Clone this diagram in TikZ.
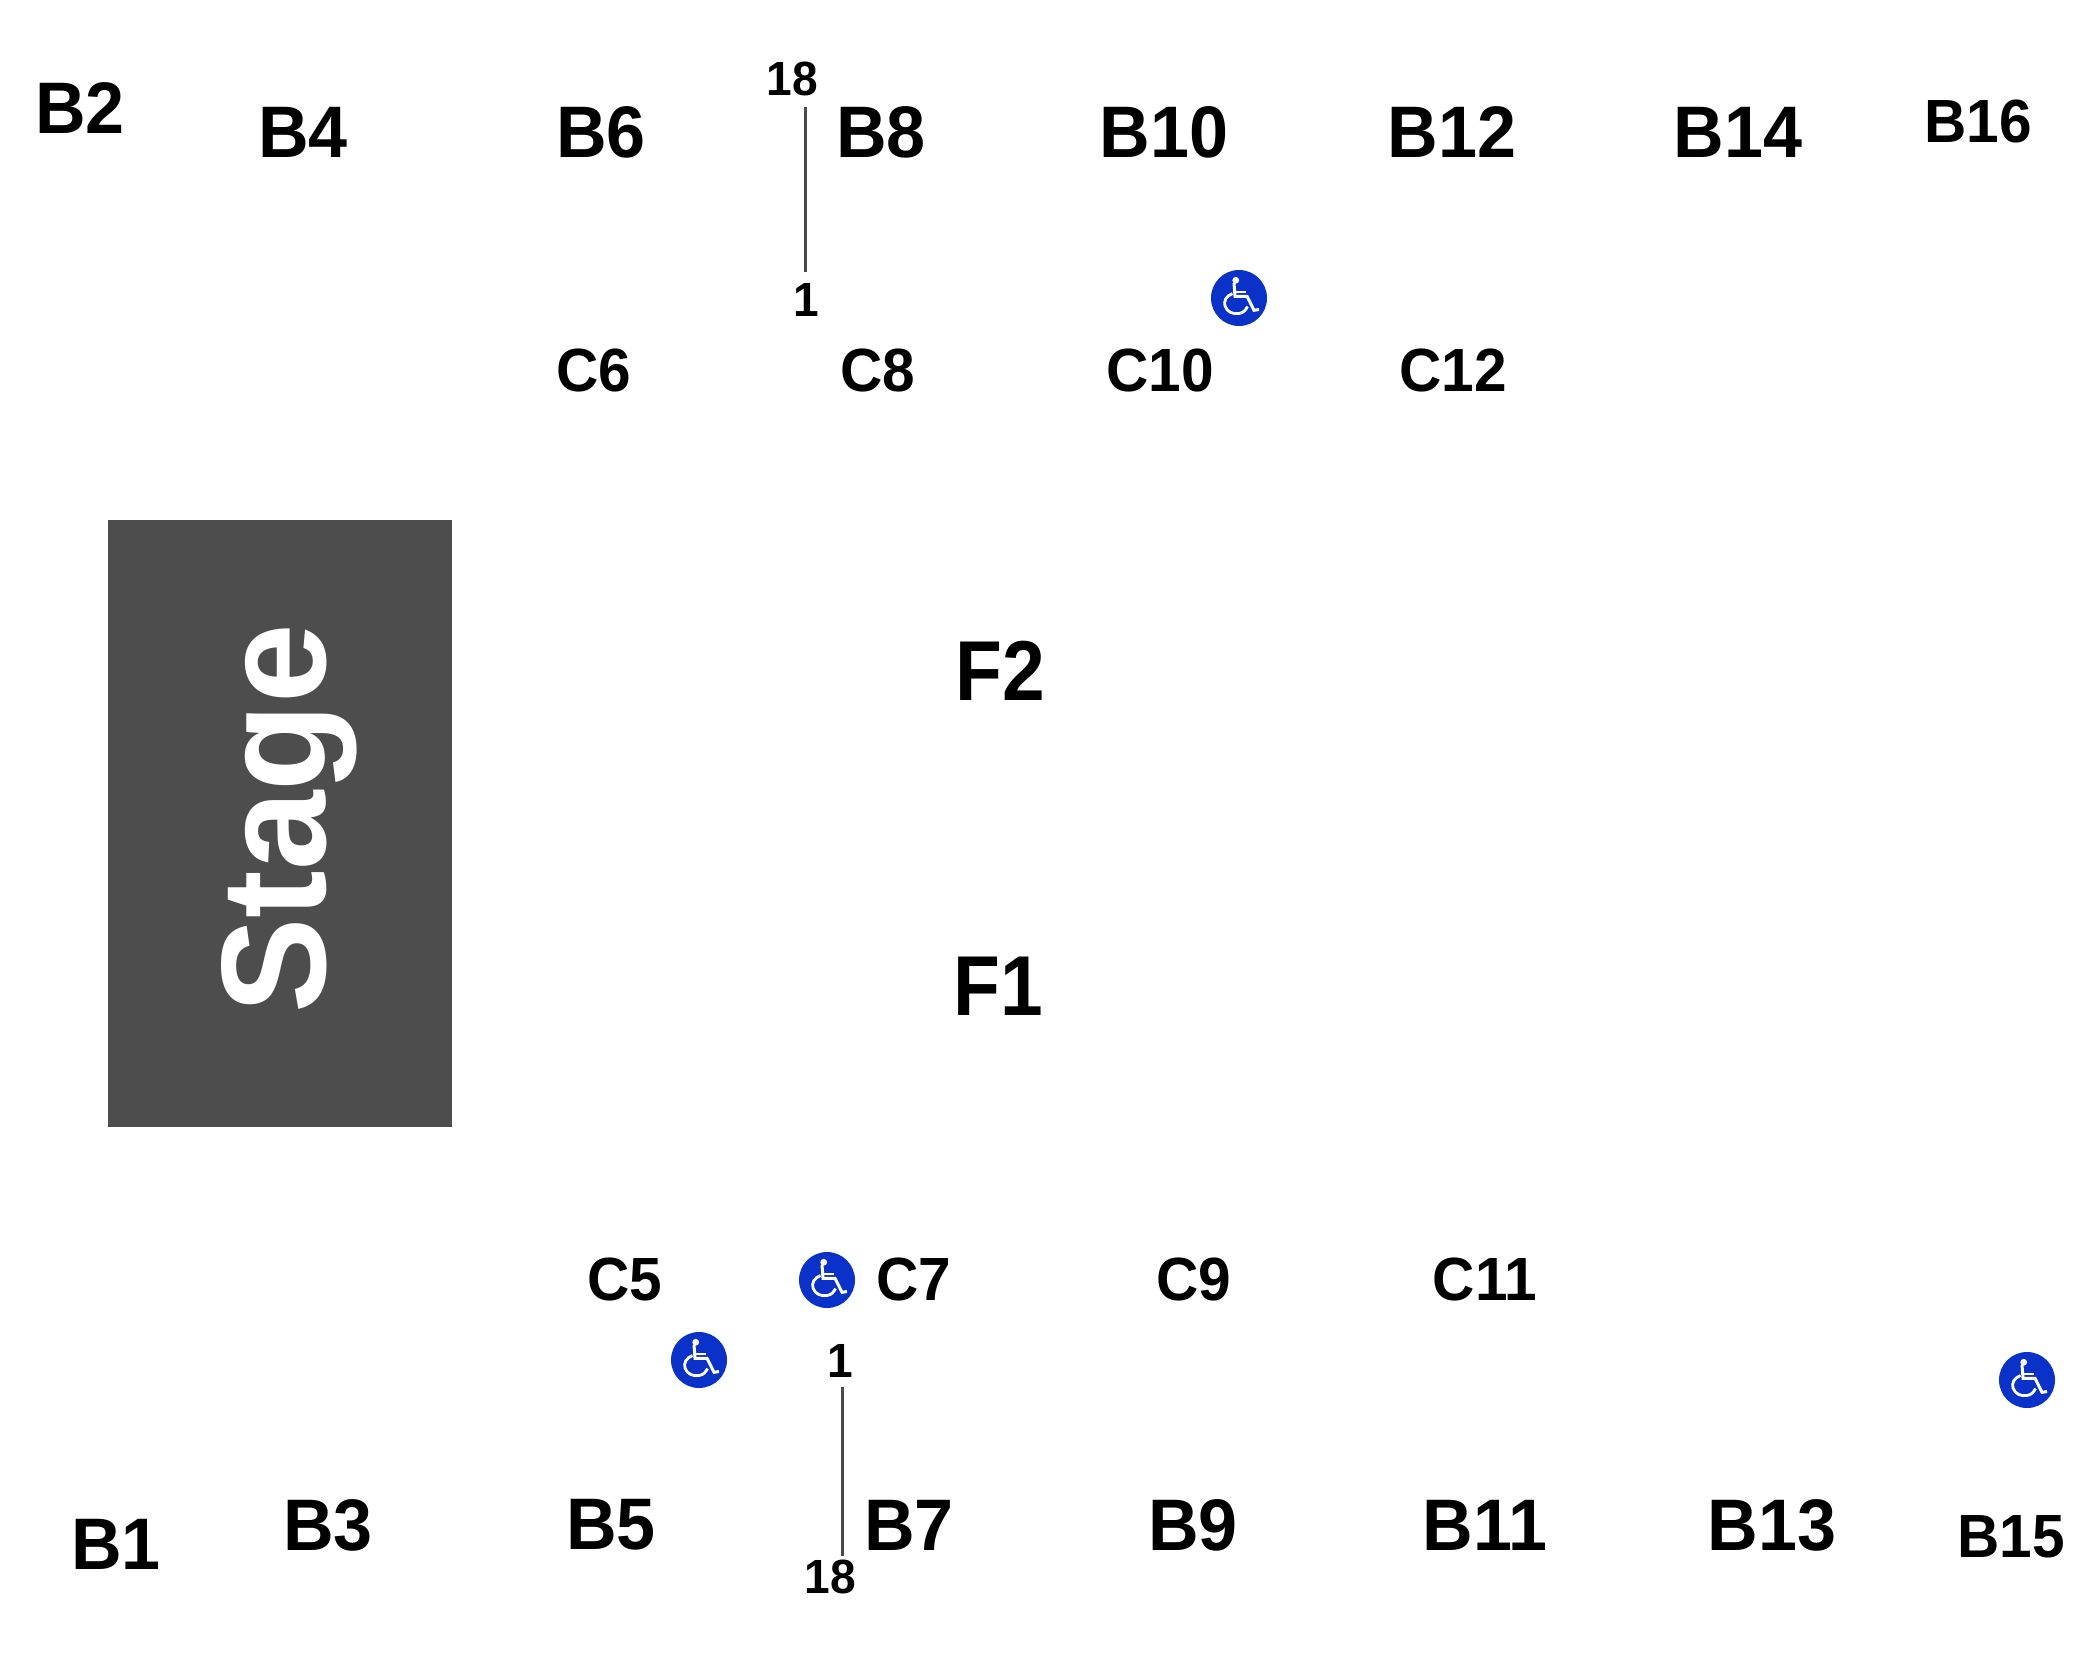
\documentclass[tikz,border=0pt]{standalone}
\usepackage{fontspec}
\setmainfont{Liberation Sans}[BoldFeatures={FakeStretch=0.96}]
\definecolor{stagegray}{HTML}{4D4D4D}
\definecolor{linegray}{HTML}{4A4A4A}
\definecolor{iconblue}{HTML}{0A32C8}
\tikzset{
  x=1pt,y=-1pt,
  inner sep=0pt,outer sep=0pt,
  lab/.style={font=\bfseries\fontsize{#1}{#1}\selectfont,text=black,anchor=center},
  big/.style={lab=73},
  mid/.style={lab=61},
  small/.style={lab=48},
  huge/.style={lab=85},
  rowline/.style={draw=linegray,line width=3pt},
  wheelchair/.pic={
    \fill[iconblue] (0,0) circle[radius=28];
    \fill[white] (-3.3,-17.7) circle[radius=3.4];
    \draw[white,line width=3pt,line join=miter]
      (-5,-15) -- (-4,-1.7) -- (8,-1.7) -- (15,12.3) -- (20,11.5);
    \draw[white,line width=2.6pt] (-3.5,-6) -- (7,-6);
    \draw[white,line width=2.8pt]
      (-6.5,-4.5) .. controls (-13,-2) and (-15.5,3) .. (-14,8)
      .. controls (-12,14) and (-6,16.5) .. (0,15.5)
      .. controls (4,15) and (7,12) .. (8.5,8.5);
  }
}
\begin{document}
\begin{tikzpicture}
\useasboundingbox (0,0) rectangle (2100,1680);
\fill[white] (0,0) rectangle (2100,1680);
\path[fill=stagegray] (108,520) rectangle (452,1127);
\node[rotate=90,anchor=base,text=white,font=\bfseries\fontsize{149}{149}\selectfont] (stage) at (325,819) {\scalebox{1.0}[1]{Stage}};

\node[big] (b2) at (80,108) {B2};
\node[big] (b4) at (303,132) {B4};
\node[big] (b6) at (601,132) {B6};
\node[big] (b8) at (881,132) {B8};
\node[big] (b10) at (1164,132) {B10};
\node[big] (b12) at (1452,132) {B12};
\node[big] (b14) at (1738,132) {B14};
\node[mid] (b16) at (1978,122) {B16};

\node[mid] (c6) at (594,370) {C6};
\node[mid] (c8) at (878,370) {C8};
\node[mid] (c10) at (1160,370) {C10};
\node[mid] (c12) at (1453,370) {C12};

\node[huge] (f2) at (1000,671) {\scalebox{0.94}[1]{F2}};
\node[huge] (f1) at (998,986) {\scalebox{0.94}[1]{F1}};

\node[mid] (c5) at (625,1279) {C5};
\node[mid] (c7) at (914,1279) {C7};
\node[mid] (c9) at (1194,1279) {C9};
\node[mid] (c11) at (1485,1279) {C11};

\node[big] (b1) at (116,1544) {B1};
\node[big] (b3) at (328,1525) {B3};
\node[big] (b5) at (611,1525) {B5};
\node[big] (b7) at (909,1525) {B7};
\node[big] (b9) at (1193,1525) {B9};
\node[big] (b11) at (1485,1525) {B11};
\node[big] (b13) at (1772,1525) {B13};
\node[mid] (b15) at (2011,1537) {B15};

\node[small] (t18) at (792,79) {18};
\node[small] (t1) at (806,300) {1};
\node[small] (u1) at (840,1361) {1};
\node[small] (u18) at (830,1577) {18};

\coordinate (ta) at (805,107);
\coordinate (tb) at (805,272);
\coordinate (ua) at (842,1387);
\coordinate (ub) at (842,1556);
\draw[rowline] (ta) -- (tb);
\draw[rowline] (ua) -- (ub);

\pic at (1239,298) {wheelchair};
\pic at (827,1280) {wheelchair};
\pic at (699,1360) {wheelchair};
\pic at (2027,1380) {wheelchair};
\end{tikzpicture}
\end{document}
